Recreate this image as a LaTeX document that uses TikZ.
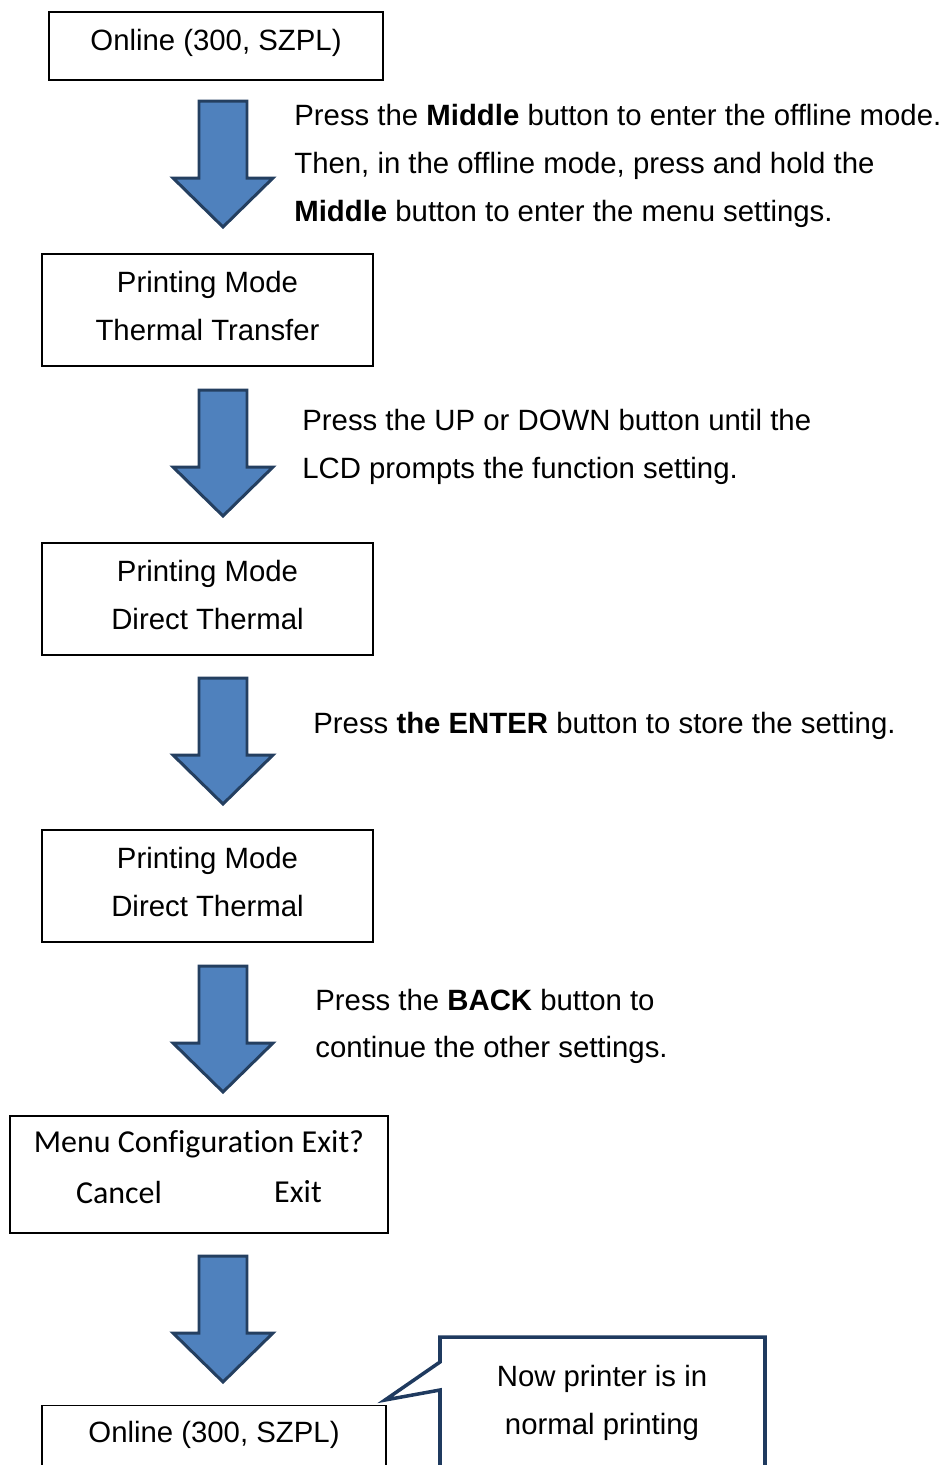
\documentclass[tikz,border=0pt]{standalone}
\usepackage{fontspec}
\setmainfont{Liberation Sans}
\newfontfamily\menufont[Ligatures=NoCommon]{Carlito}
\usetikzlibrary{positioning}

\definecolor{arrowblue}{HTML}{4F81BD}
\definecolor{arrowedge}{HTML}{243F60}
\definecolor{calloutedge}{HTML}{1F3A5F}
\newcommand{\diagfont}{\fontsize{16.7}{27.2}\selectfont}

\tikzset{
  flowbox/.style={draw=black, line width=0.8pt, align=center, font=\diagfont},
  onerow/.style={text height=11pt, text depth=6pt},
  tworow/.style={text height=39.4pt, text depth=4.6pt},
  steptext/.style={anchor=west, align=left, inner sep=0pt, font=\diagfont},
  menutext/.style={inner sep=0pt, font=\menufont\fontsize{18.2}{27.2}\selectfont},
  blockarrow/.pic={
    \filldraw[fill=arrowblue, draw=arrowedge, line width=1.7pt, line join=miter]
      (-24,0) -- (24,0) -- (24,77) -- (50,77) -- (0,126) -- (-50,77) -- (-24,77) -- cycle;
  }
}

\begin{document}
\begin{tikzpicture}[x=0.02cm, y=-0.02cm]
  \useasboundingbox (0,0) rectangle (944,1465);
  % Boxes
  \node[flowbox, onerow, minimum width=6.68cm, minimum height=1.36cm] (online) at (216,46) {Online (300, SZPL)};
  \node[flowbox, tworow, minimum width=6.62cm, minimum height=2.24cm] (thermal) at (207.5,310) {Printing Mode\\Thermal Transfer};
  \node[flowbox, tworow, minimum width=6.62cm, minimum height=2.24cm] (direct) at (207.5,599) {Printing Mode\\Direct Thermal};
  \node[flowbox, tworow, minimum width=6.62cm, minimum height=2.24cm] (stored) at (207.5,886) {Printing Mode\\Direct Thermal};
  \node[flowbox, minimum width=7.56cm, minimum height=2.34cm] (menuexit) at (199,1174.5) {};
  \node[menutext] (menutitle) at (199,1144) {Menu Configuration Exit?};
  \node[menutext] (cancel) at (119,1192) {Cancel};
  \node[menutext] (exit) at (298,1192) {Exit};
  \node[flowbox, anchor=north, minimum width=6.88cm, inner ysep=0pt, text height=20.7pt, text depth=2cm] (onlineagain) at (214,1405) {Online (300, SZPL)};
  % Arrows
  \foreach \y in {101,390,678,966,1256}
    \pic at (223,\y) {blockarrow};
  % Steps
  \node[steptext] (enter) at (294,166) {Press the \textbf{Middle} button to enter the offline mode.\\Then, in the offline mode, press and hold the\\\textbf{Middle} button to enter the menu settings.};
  \node[steptext] (updown) at (302,447) {Press the UP or DOWN button until the\\LCD prompts the function setting.};
  \node[steptext] (store) at (313,726) {Press \textbf{the ENTER} button to store the setting.};
  \node[steptext] (back) at (315,1026.5) {Press the \textbf{BACK} button to\\continue the other settings.};
  % Callout
  \coordinate (tip) at (385,1400);
  \filldraw[fill=white, draw=calloutedge, line width=2pt, line join=miter]
    (440,1337) -- (765,1337) -- (765,1500) -- (440,1500) -- (440,1390) -- (tip) -- (440,1362) -- cycle;
  \node[align=center, inner sep=0pt, font=\diagfont] (normal) at (602,1403) {Now printer is in\\normal printing};
\end{tikzpicture}
\end{document}
